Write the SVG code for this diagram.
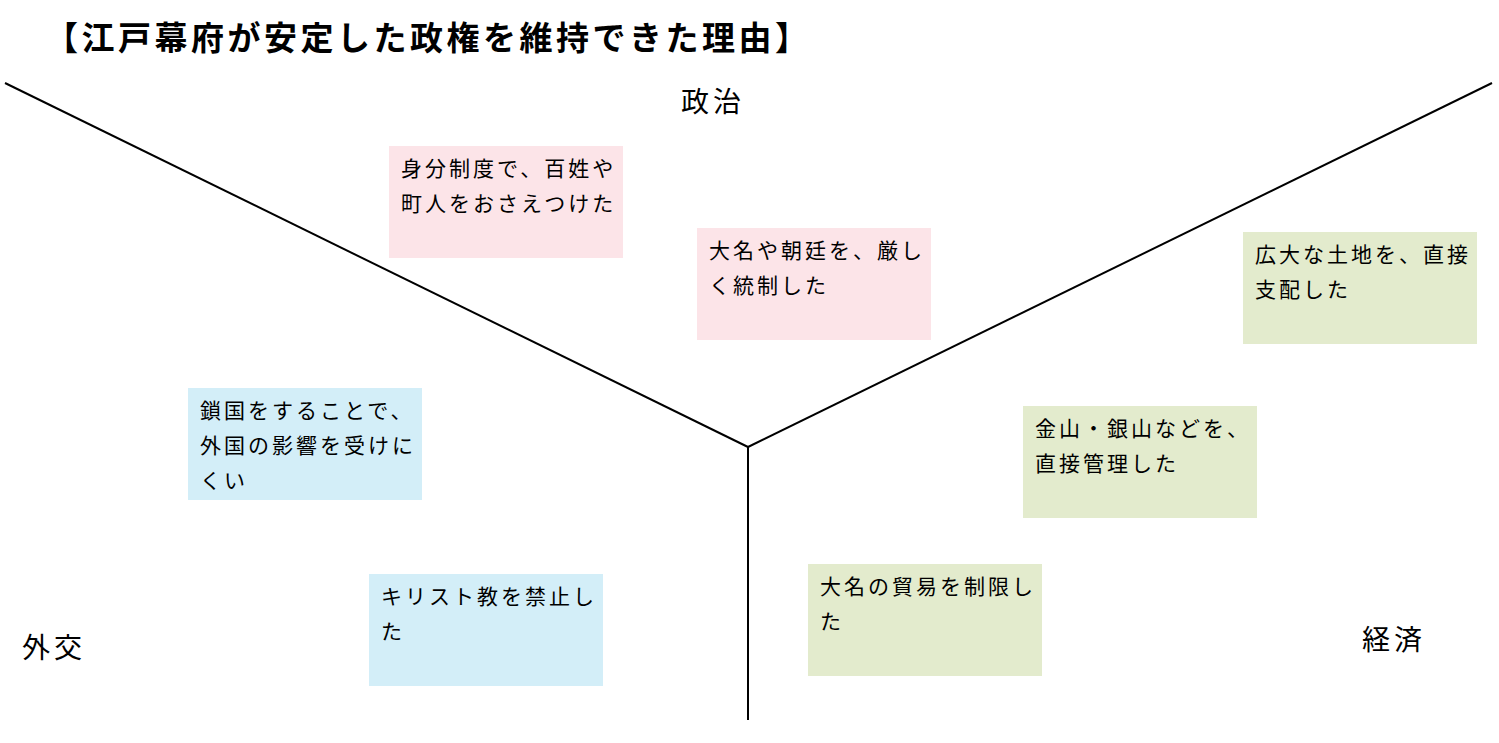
<svg xmlns="http://www.w3.org/2000/svg" width="1499" height="743" viewBox="0 0 1499 743">
<style>
text{font-family:"Noto Sans CJK JP",sans-serif;fill:#000}
.t{font-size:21px;letter-spacing:3px}
.l{font-size:28px;letter-spacing:4px}
.pink{fill:#fce4e8}.green{fill:#e3ebcd}.blue{fill:#d3eef8}
</style>
<rect width="1499" height="743" fill="#fff"/>
<text x="45" y="50" style="font-size:33px;font-weight:bold;letter-spacing:3.5px">【江戸幕府が安定した政権を維持できた理由】</text>
<g id="connectors" stroke="#000" stroke-width="2" fill="none">
<line x1="5" y1="83" x2="748" y2="447"/>
<line x1="1492" y1="83" x2="748" y2="447"/>
<line x1="748" y1="447" x2="748" y2="720"/>
</g>
<g id="label-seiji"><text class="l" x="681" y="112">政治</text></g>
<g id="label-gaiko"><text class="l" x="22" y="658">外交</text></g>
<g id="label-keizai"><text class="l" x="1362" y="650">経済</text></g>
<g id="n1"><rect class="pink" x="389" y="146" width="234" height="112"/><text class="t" x="401" y="176">身分制度で、百姓や</text><text class="t" x="401" y="211">町人をおさえつけた</text></g>
<g id="n2"><rect class="pink" x="697" y="228" width="234" height="112"/><text class="t" x="709" y="258">大名や朝廷を、厳し</text><text class="t" x="709" y="293">く統制した</text></g>
<g id="n3"><rect class="green" x="1243" y="232" width="234" height="112"/><text class="t" x="1255" y="262">広大な土地を、直接</text><text class="t" x="1255" y="297">支配した</text></g>
<g id="n4"><rect class="green" x="1023" y="406" width="234" height="112"/><text class="t" x="1035" y="436">金山・銀山などを、</text><text class="t" x="1035" y="471">直接管理した</text></g>
<g id="n5"><rect class="green" x="808" y="564" width="234" height="112"/><text class="t" x="820" y="594">大名の貿易を制限し</text><text class="t" x="820" y="629">た</text></g>
<g id="n6"><rect class="blue" x="188" y="388" width="234" height="112"/><text class="t" x="200" y="418">鎖国をすることで、</text><text class="t" x="200" y="453">外国の影響を受けに</text><text class="t" x="200" y="488">くい</text></g>
<g id="n7"><rect class="blue" x="369" y="574" width="234" height="112"/><text class="t" x="381" y="604">キリスト教を禁止し</text><text class="t" x="381" y="639">た</text></g>
</svg>
